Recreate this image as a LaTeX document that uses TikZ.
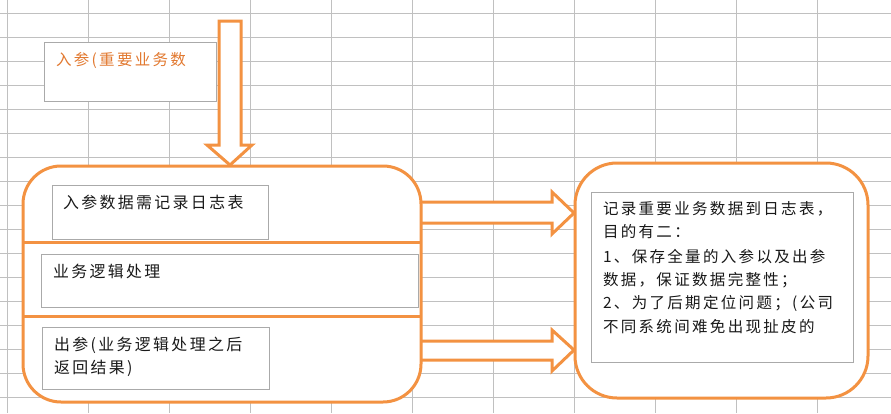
\documentclass[tikz,border=0pt]{standalone}
\usepackage{fontspec}
\newfontfamily\cjk[LetterSpace=15]{Noto Sans CJK SC}
\definecolor{org}{RGB}{243,146,66}
\definecolor{orgtxt}{RGB}{226,121,48}
\definecolor{gridc}{RGB}{192,192,192}
\definecolor{boxc}{RGB}{170,170,170}
\definecolor{txt}{RGB}{25,25,25}
\begin{document}
\begin{tikzpicture}[x=1pt,y=-1pt,
  gridline/.style={gridc, line width=0.8pt},
  inbox/.style={draw=boxc, fill=white, line width=0.8pt, inner sep=0pt, outer sep=0pt, anchor=north west},
  obox/.style={draw=org, fill=white, line width=3pt, inner sep=0pt, outer sep=0pt, anchor=north west},
  blockarrow/.style={draw=org, fill=white, line width=3pt, line join=miter},
  divider/.style={draw=org, line width=3pt},
  lbl/.style={anchor=base west, inner sep=0pt, outer sep=0pt, font=\cjk\fontsize{15.5}{18}\selectfont, text=txt},
  lblbig/.style={lbl, font=\cjk\fontsize{15.9}{18}\selectfont}
]
\useasboundingbox (0,0) rectangle (891,413);
\fill[white] (0,0) rectangle (891,413);
% spreadsheet grid
\foreach \gx in {7,88,169,250,331,412,493,574,655,736,817}
  \draw[gridline] (\gx,0) -- (\gx,413);
\foreach \gy in {13,37,61,85,109,133,157,181,205,229,253,277,301,325,349,373,397}
  \draw[gridline] (0,\gy) -- (891,\gy);

% input note box
\node[inbox, minimum width=172pt, minimum height=59pt] (inp) at (44,42) {};
\node[lbl, text=orgtxt] (inpt) at (56,65) {入参(重要业务数};

% block arrows
\draw[blockarrow] (219,21) -- (241,21) -- (241,145) -- (252,145) -- (230,165) -- (207,145) -- (219,145) -- cycle;
\draw[blockarrow] (410,202) -- (552,202) -- (552,192) -- (574,213) -- (552,234) -- (552,223) -- (410,223) -- cycle;
\draw[blockarrow] (410,341) -- (552,341) -- (552,330) -- (574,350) -- (552,371) -- (552,360) -- (410,360) -- cycle;

% main left process box
\node[obox, rounded corners=38pt, minimum width=398pt, minimum height=236pt] (proc) at (23,166) {};
\draw[divider] (23,242) -- (421,242);
\draw[divider] (23,316) -- (421,316);

% inner boxes
\node[inbox, minimum width=216pt, minimum height=54pt] (b1) at (52,185) {};
\node[lblbig] (b1t) at (63,208) {入参数据需记录日志表};
\node[inbox, minimum width=377pt, minimum height=53pt] (b2) at (41,254) {};
\node[lblbig] (b2t) at (53,277) {业务逻辑处理};
\node[inbox, minimum width=227pt, minimum height=62pt] (b3) at (42,327) {};
\node[lblbig] (b3t1) at (54,350) {出参(业务逻辑处理之后};
\node[lblbig] (b3t2) at (54,373.5) {返回结果)};

% right note box
\node[obox, rounded corners=42pt, minimum width=293pt, minimum height=235pt] (note) at (575,163) {};
\node[inbox, minimum width=262pt, minimum height=170pt] (nb) at (591,192) {};
\node[lbl] (n1) at (603,214.7) {记录重要业务数据到日志表，};
\node[lbl] (n2) at (603,237.4) {目的有二：};
\node[lbl] (n3) at (603,262.4) {1、保存全量的入参以及出参};
\node[lbl] (n4) at (603,285.7) {数据，保证数据完整性；};
\node[lbl] (n5) at (603,308.7) {2、为了后期定位问题；(公司};
\node[lbl] (n6) at (603,332.7) {不同系统间难免出现扯皮的};
\end{tikzpicture}
\end{document}
